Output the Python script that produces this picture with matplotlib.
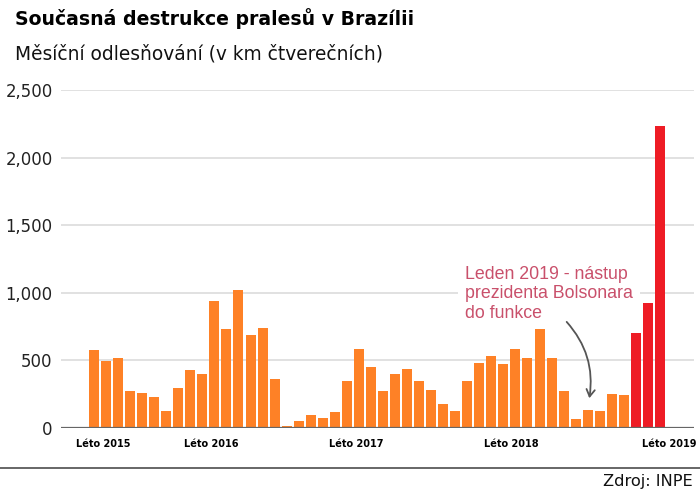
import matplotlib
matplotlib.use('Agg')
import matplotlib.pyplot as plt
from matplotlib import font_manager

# monthly deforestation, Aug 2015 .. Jul 2019 (km2)
months = [f"{2015 + (7 + i) // 12}-{(7 + i) % 12 + 1:02d}" for i in range(48)]
deforestation = [580, 495, 518, 274, 262, 227, 128, 296, 429, 399,
                 937, 730, 1021, 685, 737, 360, 15, 54, 99, 71,
                 121, 345, 587, 454, 274, 397, 434, 350, 281, 175,
                 128, 350, 478, 530, 471, 587, 515, 730, 518, 274,
                 64, 133, 128, 249, 242, 703, 922, 2234]
highlight = ['2019-05', '2019-06', '2019-07']
season_labels = ['Léto 2015', 'Léto 2016', 'Léto 2017', 'Léto 2018', 'Léto 2019']
season_pos = [0.8, 9.75, 21.75, 34.65, 47.8]
y_ticks = [0, 500, 1000, 1500, 2000, 2500]

ORANGE = '#fe8126'
RED = '#ee1c25'
ANNOT = '#c9506b'

installed = {f.name for f in font_manager.fontManager.ttflist}
if 'Liberation Sans Narrow' in installed:
    xfont = dict(family=['Liberation Sans Narrow', 'DejaVu Sans'], size=8.6, weight='bold')
else:
    xfont = dict(family='DejaVu Sans', size=7, weight='bold')

fig = plt.figure(figsize=(7, 4.92), dpi=100)
ax = fig.add_axes([61 / 700, 1 - 428 / 492, (694 - 61) / 700, (428 - 90) / 492])

x = list(range(len(months)))
colors = [RED if m in highlight else ORANGE for m in months]
ax.bar(x, deforestation, width=0.83, color=colors, zorder=2)

ax.set_xlim(-2.74, 49.83)
ax.set_ylim(0, 2500)
ax.set_yticks(y_ticks)
ax.set_yticklabels([f"{v:,}" for v in y_ticks], fontsize=11.9, color='#222222')
ax.set_xticks(season_pos)
ax.set_xticklabels(season_labels, **xfont)
ax.tick_params(axis='both', length=0)
ax.tick_params(axis='y', pad=6)
ax.tick_params(axis='x', pad=8)

for v in y_ticks[1:]:
    ax.axhline(v, color='#d9d9d9', lw=1.1, zorder=1)
ax.axhline(0, color='#666666', lw=1.6, zorder=3)
for s in ax.spines.values():
    s.set_visible(False)

ax.text(30.8, 1200, 'Leden 2019 - nástup\nprezidenta Bolsonara\ndo funkce',
        family='Liberation Sans', fontsize=12.8, color=ANNOT, va='top', ha='left',
        linespacing=1.2,
        bbox=dict(boxstyle='square,pad=0.4', fc='white', ec='none'), zorder=4)
ax.annotate('', xy=(41.1, 200), xytext=(39.1, 800),
            arrowprops=dict(arrowstyle='->,head_length=0.5,head_width=0.3',
                            color='#555555', lw=1.3,
                            connectionstyle='arc3,rad=-0.25'), zorder=4)

fig.text(15 / 700, 1 - 25 / 492, 'Současná destrukce pralesů v Brazílii',
         fontsize=13.6, fontweight='bold', va='baseline', ha='left')
fig.text(15 / 700, 1 - 60 / 492, 'Měsíční odlesňování (v km čtverečních)',
         fontsize=13.4, va='baseline', ha='left', color='#111111')

fig.add_artist(plt.Line2D([0, 1], [1 - 468 / 492] * 2, transform=fig.transFigure,
                          color='#666666', lw=1.4))
fig.text(693 / 700, 1 - 486 / 492, 'Zdroj: INPE', fontsize=11.7,
         va='baseline', ha='right', color='#111111')

fig.savefig('out.png', dpi=100)
